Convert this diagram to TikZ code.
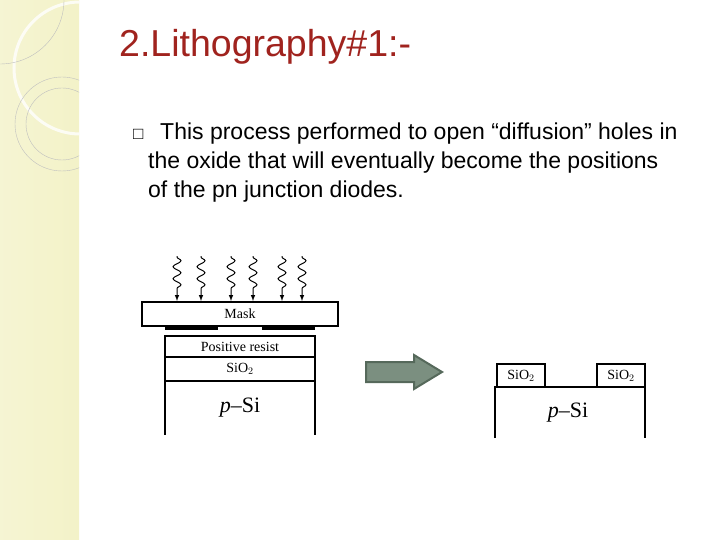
\documentclass[tikz,border=0pt]{standalone}
\usepackage{fontspec}
\setmainfont{Liberation Sans}
\newfontfamily\tms{Liberation Serif}
\usetikzlibrary{decorations.pathmorphing}
\definecolor{side}{HTML}{F3F2C8}
\definecolor{titlec}{HTML}{A0231E}
\definecolor{arrf}{HTML}{7B8F80}
\definecolor{arrd}{HTML}{56695B}
\tikzset{lay/.style={draw,line width=1.3pt},
 lbl/.style={font=\tms\fontsize{14}{14}\selectfont},
 wave/.style={line width=1pt,-latex,decorate,decoration={snake,amplitude=4pt,segment length=12pt,pre length=1pt,post length=9pt}},
 txt/.style={font=\fontsize{23}{29}\selectfont,anchor=north west,align=left,inner sep=0}}
\begin{document}
\begin{tikzpicture}[x=1pt,y=-1pt]
\useasboundingbox (0,0) rectangle (720,540);
\fill[white] (0,0) rectangle (720,540);
\begin{scope}
\clip (0,0) rectangle (79,540);
\shade[left color=side!80!white,right color=side] (0,0) rectangle (79,540);
\draw[white,line width=3pt,opacity=0.8] (80,68) circle (66);
\draw[black!25,line width=0.4pt] (0,0) circle (64);
\draw[black!25,line width=0.4pt] (62,124) circle (47);
\draw[black!25,line width=0.4pt] (62,124) circle (36);
\end{scope}
\node[anchor=base west,text=titlec,font=\fontsize{37.5}{40}\selectfont,inner sep=0] (title) at (119,57) {2.Lithography\#1:-};
\node[anchor=base west,inner sep=0,font=\fontsize{17}{17}\selectfont] (bul) at (133,140) {\char"25A1};
\node[txt,anchor=base west] (b) at (160,140) {This process performed to open “diffusion” holes in};
\node[txt,anchor=base west] (b2) at (148,169) {the oxide that will eventually become the positions};
\node[txt,anchor=base west] (b3) at (148,198) {of the pn junction diodes.};
% left diagram
\foreach \x in {177,201,231,253,282,302}{
 \coordinate (s\x) at (\x,256); \coordinate (e\x) at (\x,301);
 \draw[wave] (s\x) -- (e\x);}
\node[lay,rectangle,minimum width=196,minimum height=24,inner sep=0,lbl] (mask) at (240,314) {Mask};
\fill (165,326) rectangle (218,330);
\fill (262,326) rectangle (315,330);
\node[lay,minimum width=150,minimum height=21,inner sep=0,lbl] (res) at (240,346.5) {Positive resist};
\node[lay,minimum width=150,minimum height=24,inner sep=0,lbl] (ox) at (240,369) {SiO$_2$};
\draw[lay] (165,381) -- (165,435) (315,381) -- (315,435);
\node[lbl,font=\tms\fontsize{22}{22}\selectfont] (psi) at (240,408) {\textit{p}–Si};
% arrow
\draw[draw=arrd,fill=arrf,line width=2pt] (366,362) -- (414,362) -- (414,355) -- (442,372) -- (414,389) -- (414,382) -- (366,382) -- cycle;
% right
\node[lay,minimum width=48,minimum height=23,inner sep=0,lbl] (o1) at (521,375.5) {SiO$_2$};
\node[lay,minimum width=48,minimum height=23,inner sep=0,lbl] (o2) at (621,375.5) {SiO$_2$};
\draw[lay] (495,438) -- (495,387) -- (645,387) -- (645,438);
\node[lbl,font=\tms\fontsize{22}{22}\selectfont] (psi2) at (568,413) {\textit{p}–Si};
\end{tikzpicture}
\end{document}
